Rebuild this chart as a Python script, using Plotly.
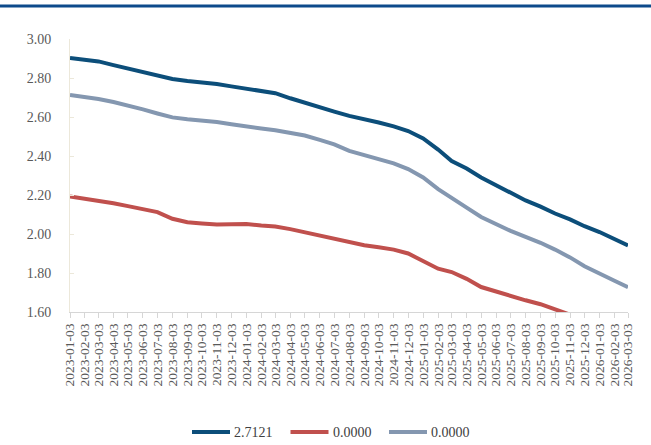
import plotly.graph_objects as go

# Monthly observation dates (3rd of each month)
dates = [
    "2023-01-03", "2023-02-03", "2023-03-03", "2023-04-03", "2023-05-03", "2023-06-03",
    "2023-07-03", "2023-08-03", "2023-09-03", "2023-10-03", "2023-11-03", "2023-12-03",
    "2024-01-03", "2024-02-03", "2024-03-03", "2024-04-03", "2024-05-03", "2024-06-03",
    "2024-07-03", "2024-08-03", "2024-09-03", "2024-10-03", "2024-11-03", "2024-12-03",
    "2025-01-03", "2025-02-03", "2025-03-03", "2025-04-03", "2025-05-03", "2025-06-03",
    "2025-07-03", "2025-08-03", "2025-09-03", "2025-10-03", "2025-11-03", "2025-12-03",
    "2026-01-03", "2026-02-03", "2026-03-03",
]

series_a = [
    2.902, 2.895, 2.885, 2.866, 2.848, 2.830, 2.812, 2.795, 2.785, 2.778, 2.769, 2.757,
    2.745, 2.735, 2.722, 2.696, 2.672, 2.650, 2.628, 2.606, 2.590, 2.572, 2.552, 2.528,
    2.490, 2.433, 2.374, 2.336, 2.290, 2.250, 2.208, 2.172, 2.140, 2.105, 2.075, 2.040,
    2.010, 1.975, 1.941,
]

series_b = [
    2.193, 2.182, 2.174, 2.158, 2.143, 2.128, 2.112, 2.078, 2.060, 2.054, 2.049, 2.050,
    2.051, 2.043, 2.038, 2.025, 2.008, 1.993, 1.978, 1.958, 1.942, 1.932, 1.920, 1.900,
    1.862, 1.822, 1.805, 1.770, 1.728, 1.705, 1.680, 1.660, 1.640, 1.615, 1.588, 1.560,
]

series_c = [
    2.713, 2.703, 2.692, 2.677, 2.660, 2.639, 2.618, 2.598, 2.588, 2.582, 2.574, 2.563,
    2.550, 2.541, 2.532, 2.520, 2.505, 2.483, 2.460, 2.426, 2.405, 2.385, 2.362, 2.333,
    2.290, 2.230, 2.182, 2.135, 2.087, 2.050, 2.016, 1.985, 1.955, 1.920, 1.880, 1.835,
    1.795, 1.760, 1.727,
]

names = ["2.7121", "0.0000", "0.0000"]
colors = ["#0c4e7a", "#c0504d", "#8497b0"]
y_ticks = [1.6, 1.8, 2.0, 2.2, 2.4, 2.6, 2.8, 3.0]

serif = "Liberation Serif, serif"

# Plot-area geometry in pixels
W, H = 651, 445
L, R, T, B = 70, 23, 39, 133
PW, PH = W - L - R, H - T - B


def px_x(p):
    return (p - L) / PW


def px_y(p):
    return (H - B - p) / PH


fig = go.Figure()
for vals, name, color in zip([series_a, series_b, series_c], names, colors):
    fig.add_trace(go.Scatter(
        x=dates[:len(vals)], y=vals, name=name, mode="lines",
        line=dict(color=color, width=4), showlegend=False,
    ))

# Legend drawn below the axis: a 40px line sample followed by the label
shapes = [dict(
    type="line", xref="paper", yref="paper",
    x0=px_x(0), x1=px_x(W), y0=px_y(6), y1=px_y(6),
    line=dict(color="#0d4a8b", width=3),
)]
annotations = []
for k, (name, color) in enumerate(zip(names, colors)):
    x0 = 192 + 98.5 * k
    shapes.append(dict(
        type="line", xref="paper", yref="paper",
        x0=px_x(x0), x1=px_x(x0 + 38), y0=px_y(432), y1=px_y(432),
        line=dict(color=color, width=4),
    ))
    annotations.append(dict(
        xref="paper", yref="paper", x=px_x(x0 + 40), y=px_y(432),
        xanchor="left", yanchor="middle", showarrow=False, text=name,
        font=dict(family=serif, size=14, color="#404040"),
    ))

fig.update_layout(
    width=W, height=H,
    margin=dict(l=L, r=R, t=T, b=B, autoexpand=False),
    paper_bgcolor="white", plot_bgcolor="white",
    font=dict(family=serif, size=13, color="#595959"),
    showlegend=False,
    xaxis=dict(
        type="date",
        range=["2023-01-03", "2026-03-03"],
        tickmode="array", tickvals=dates, ticktext=dates,
        tickangle=-90,
        automargin=False,
        showgrid=False, zeroline=False,
        showline=True, linecolor="#d6d6d6", linewidth=1,
        ticks="outside", ticklen=5, tickcolor="#d6d6d6",
        tickfont=dict(family=serif, size=13.5, color="#595959"),
    ),
    yaxis=dict(
        range=[1.6, 3.0],
        tickmode="array", tickvals=y_ticks,
        ticktext=[f"{v:.2f}" for v in y_ticks],
        automargin=False,
        showgrid=False, zeroline=False,
        showline=True, linecolor="#ece8da", linewidth=1,
        ticks="inside", ticklen=4, tickcolor="#ece8da",
        ticklabelstandoff=15,
        tickfont=dict(family=serif, size=14, color="#595959"),
    ),
    shapes=shapes,
    annotations=annotations,
)

fig.write_html("out.html")
